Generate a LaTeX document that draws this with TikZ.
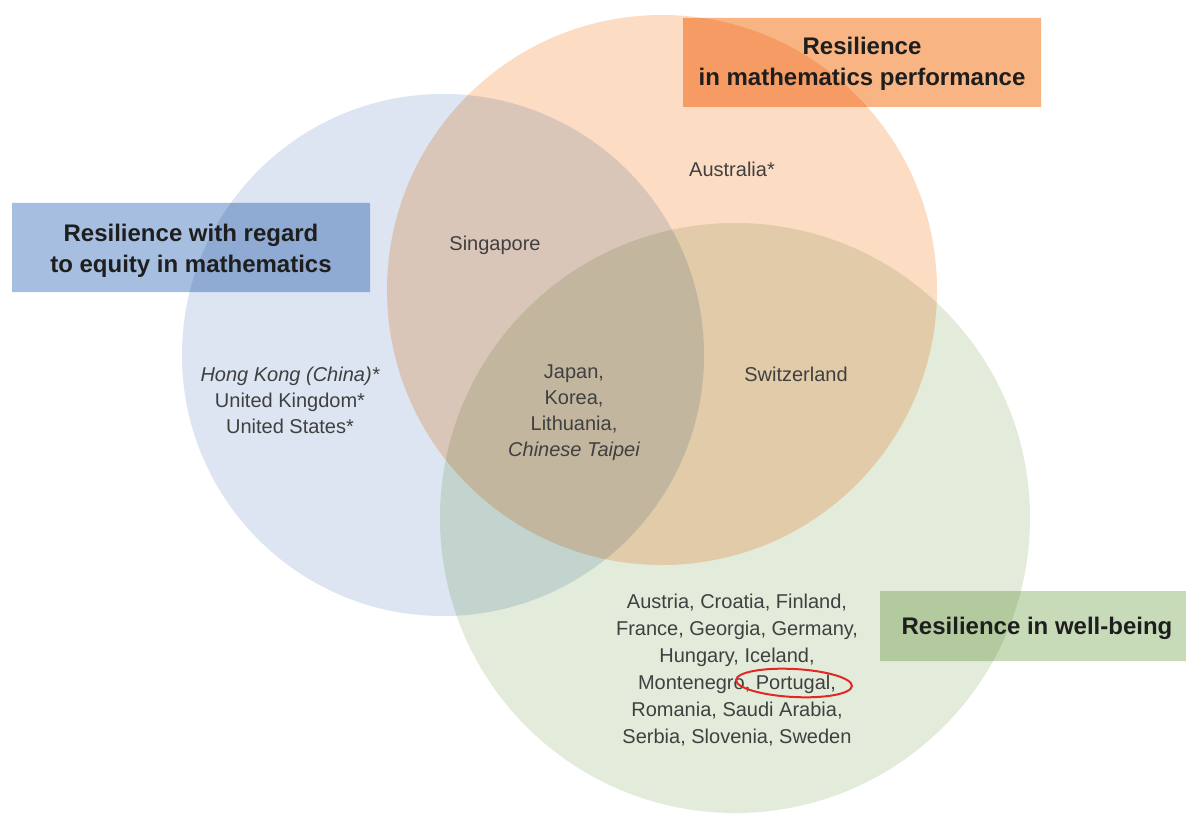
\documentclass[tikz,border=0pt]{standalone}
\usepackage{fontspec}
\setmainfont{Liberation Sans}
\definecolor{cblue}{RGB}{220,229,241}
\definecolor{corange}{RGB}{253,220,196}
\definecolor{cgreen}{RGB}{227,236,219}
\definecolor{bblue}{RGB}{166,190,224}
\definecolor{borange}{RGB}{248,180,130}
\definecolor{bgreen}{RGB}{200,219,185}
\definecolor{txt}{RGB}{30,30,30}
\definecolor{ringred}{RGB}{226,40,36}
\begin{document}
\begin{tikzpicture}[x=1pt,y=-1pt,
  titlebox/.style={inner sep=0pt},
  titletext/.style={text=txt,align=center,font=\fontsize{24}{31}\selectfont\bfseries},
  bodytext/.style={text=txt!85!white,align=center,font=\fontsize{20}{26}\selectfont},
  listtext/.style={text=txt!85!white,align=center,font=\fontsize{20}{27}\selectfont}]
\useasboundingbox (0,0) rectangle (1186,821);
\fill[white] (0,0) rectangle (1186,821);
\begin{scope}[blend group=multiply]
  \fill[cblue] (443,355) circle (261);
  \fill[corange] (662,290) circle (275);
  \fill[cgreen] (735,518) circle (295);
  \fill[bblue] (12,203) rectangle (370,292);
  \fill[borange] (683,18) rectangle (1041,107);
  \fill[bgreen] (880,591) rectangle (1186,661);
\end{scope}
\node[titletext] (tblue) at (191,251) {Resilience with regard\\to equity in mathematics};
\node[titletext] (torange) at (862,64) {Resilience\\in mathematics performance};
\node[titletext] (tgreen) at (1037,628) {Resilience in well-being};
\node[bodytext] (aus) at (732,169) {Australia*};
\node[bodytext] (sing) at (495,245) {Singapore};
\node[bodytext] (swiss) at (796,374) {Switzerland};
\node[bodytext] (hk) at (290,400) {\itshape Hong Kong (China)*\\United Kingdom*\\United States*};
\node[bodytext] (jap) at (574,413) {Japan,\\Korea,\\Lithuania,\\\itshape Chinese Taipei};
\node[listtext] (list) at (737,670) {Austria, Croatia, Finland,\\France, Georgia, Germany,\\Hungary, Iceland,\\Montenegro, Portugal,\\Romania, Saudi Arabia,\\Serbia, Slovenia, Sweden};
\draw[ringred,line width=2pt,rotate around={-3:(794,683)}] (794,683) ellipse (58 and 14);
\end{tikzpicture}
\end{document}
